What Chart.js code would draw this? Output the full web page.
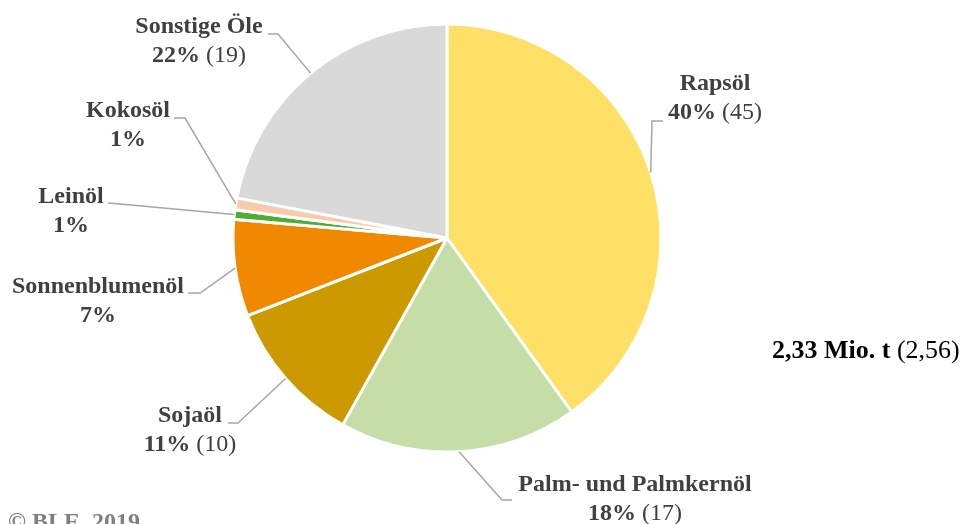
<!DOCTYPE html>
<html>
<head>
<meta charset="utf-8">
<script src="https://cdn.jsdelivr.net/npm/chart.js@4/dist/chart.umd.min.js"></script>
<style>
  html, body { margin: 0; padding: 0; background: #fff; }
  #wrap { width: 968px; height: 524px; position: relative; }
</style>
</head>
<body>
<div id="wrap"><canvas id="oilChart"></canvas></div>
<script>
// Data
const categories = ['Rapsöl', 'Palm- und Palmkernöl', 'Sojaöl', 'Sonnenblumenöl', 'Leinöl', 'Kokosöl', 'Sonstige Öle'];
const shares = [40.1, 18.0, 11.0, 7.3, 0.7, 0.9, 22.0];
const shareLabels = ['40%', '18%', '11%', '7%', '1%', '1%', '22%'];
const prevYear = ['(45)', '(17)', '(10)', '', '', '', '(19)'];
const colors = ['#FFE066', '#C5DDA6', '#CC9900', '#F08800', '#4EAD33', '#F8CBAD', '#D9D9D9'];
const totalText = '2,33 Mio. t';
const totalPrev = '(2,56)';

// where each label sits and how its leader line bends (layout only)
const labelLayout = [
  { x: 715, y: 84,  elbow: [652, 121], end: [663, 121] },
  { x: 635, y: 485, elbow: [502, 500], end: [512, 500] },
  { x: 190, y: 416, elbow: [238, 423], end: [228, 423] },
  { x: 98,  y: 287, elbow: [200, 293], end: [188, 293] },
  { x: 71,  y: 197, elbow: [120, 204], end: [108, 203] },
  { x: 128, y: 111, elbow: [185, 118], end: [174, 118] },
  { x: 199, y: 27,  elbow: [278, 34],  end: [268, 34] }
];

const SERIF = '"Liberation Serif", "Times New Roman", serif';

const labelPlugin = {
  id: 'oilLabels',
  afterDraw(chart) {
    const ctx = chart.ctx;
    const meta = chart.getDatasetMeta(0);
    ctx.save();
    meta.data.forEach((arc, i) => {
      const lay = labelLayout[i];
      const mid = (arc.startAngle + arc.endAngle) / 2;
      const ax = arc.x + Math.cos(mid) * arc.outerRadius;
      const ay = arc.y + Math.sin(mid) * arc.outerRadius;
      // leader line
      ctx.strokeStyle = '#A6A6A6';
      ctx.lineWidth = 1.5;
      ctx.beginPath();
      ctx.moveTo(ax, ay);
      ctx.lineTo(lay.elbow[0], lay.elbow[1]);
      ctx.lineTo(lay.end[0], lay.end[1]);
      ctx.stroke();

      // texts
      ctx.fillStyle = '#404040';
      ctx.textBaseline = 'middle';
      ctx.textAlign = 'center';
      ctx.font = 'bold 24px ' + SERIF;
      ctx.fillText(categories[i], lay.x, lay.y);

      const boldPart = shareLabels[i];
      const normPart = prevYear[i] ? ' ' + prevYear[i] : '';
      ctx.font = 'bold 24px ' + SERIF;
      const w1 = ctx.measureText(boldPart).width;
      ctx.font = '24px ' + SERIF;
      const w2 = normPart ? ctx.measureText(normPart).width : 0;
      const sx = lay.x - (w1 + w2) / 2;
      ctx.textAlign = 'left';
      ctx.font = 'bold 24px ' + SERIF;
      ctx.fillText(boldPart, sx, lay.y + 29);
      if (normPart) {
        ctx.font = '24px ' + SERIF;
        ctx.fillText(normPart, sx + w1, lay.y + 29);
      }
    });

    // total
    ctx.fillStyle = '#000';
    ctx.textAlign = 'left';
    ctx.textBaseline = 'middle';
    ctx.font = 'bold 26px ' + SERIF;
    const tw = ctx.measureText(totalText).width;
    ctx.fillText(totalText, 772, 351);
    ctx.font = '26px ' + SERIF;
    ctx.fillText(' ' + totalPrev, 772 + tw, 351);

    // source
    ctx.fillStyle = '#7F7F7F';
    ctx.textBaseline = 'top';
    ctx.font = 'bold 24px ' + SERIF;
    ctx.fillText('© BLE, 2019', 8, 511);
    ctx.restore();
  }
};

new Chart(document.getElementById('oilChart'), {
  type: 'pie',
  data: {
    labels: categories,
    datasets: [{
      data: shares,
      backgroundColor: colors,
      borderColor: '#FFFFFF',
      borderWidth: 3,
      hoverOffset: 0
    }]
  },
  options: {
    responsive: true,
    maintainAspectRatio: false,
    animation: false,
    radius: 214,
    layout: { padding: { left: 0, right: 74, top: 0, bottom: 48 } },
    events: [],
    plugins: {
      legend: { display: false },
      tooltip: { enabled: false }
    }
  },
  plugins: [labelPlugin]
});
</script>
</body>
</html>
